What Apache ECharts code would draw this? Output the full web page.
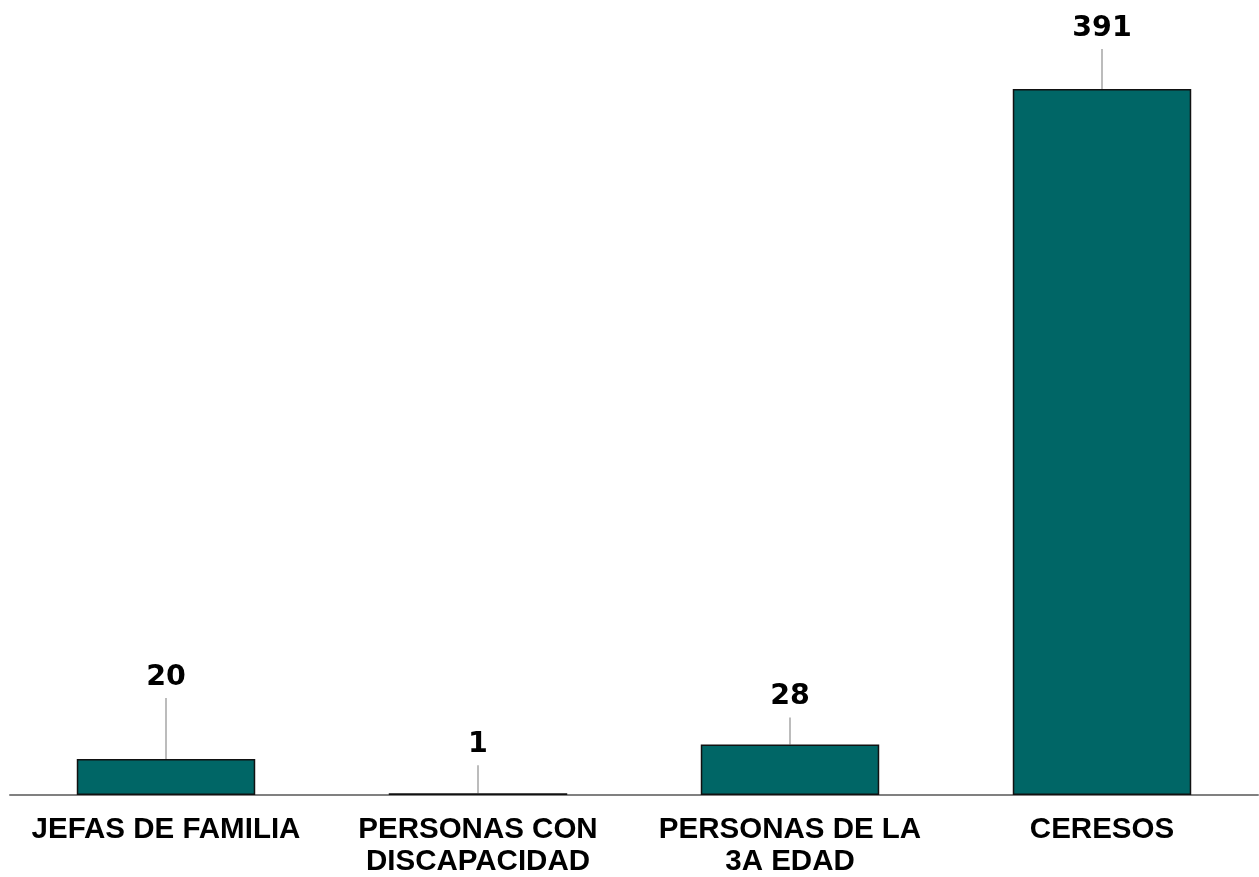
<!DOCTYPE html>
<html><head><meta charset="utf-8">
<script src="https://cdn.jsdelivr.net/npm/echarts@6/dist/echarts.min.js"></script>
<style>html,body{margin:0;padding:0;background:#fff}#c{width:1259px;height:877px}</style>
</head><body><div id="c"></div>
<script>
const categories = ['JEFAS DE FAMILIA', 'PERSONAS CON\nDISCAPACIDAD', 'PERSONAS DE LA\n3A EDAD', 'CERESOS'];
const values = [20, 1, 28, 391];
const leaderLength = [61, 28, 27, 40];

const chart = echarts.init(document.getElementById('c'));
chart.setOption({
  animation: false,
  grid: {left: 10, right: 1, top: 89, bottom: 82, outerBoundsMode: 'none', containLabel: false},
  xAxis: {
    type: 'category', data: categories,
    axisLine: {lineStyle: {color: '#808080', width: 2}},
    axisTick: {show: false},
    axisLabel: {color: '#000', fontFamily: 'Liberation Sans, Arial, sans-serif', fontWeight: 'bold', fontSize: 29.5, lineHeight: 32, margin: 19, interval: 0}
  },
  yAxis: {type: 'value', min: 0, max: 391, show: false, splitLine: {show: false}},
  series: [{
    type: 'bar', barWidth: '57.2%',
    data: values.map((v, i) => ({
      value: v,
      label: {distance: leaderLength[i] + 6}
    })),
    itemStyle: {color: '#006666', borderColor: '#111', borderWidth: 1.5},
    label: {show: true, position: 'top', color: '#000', fontFamily: 'DejaVu Sans, sans-serif', fontWeight: 'bold', fontSize: 28.5}
  }, {
    type: 'custom', silent: true, clip: false,
    data: values.map((v, i) => [i, v, leaderLength[i]]),
    encode: {x: 0, y: 1},
    renderItem: function (params, api) {
      const p = api.coord([api.value(0), api.value(1)]);
      const len = api.value(2);
      return {
        type: 'line',
        shape: {x1: p[0], y1: p[1], x2: p[0], y2: p[1] - len},
        style: {stroke: '#a6a6a6', lineWidth: 1.5}
      };
    }
  }]
});
</script></body></html>
